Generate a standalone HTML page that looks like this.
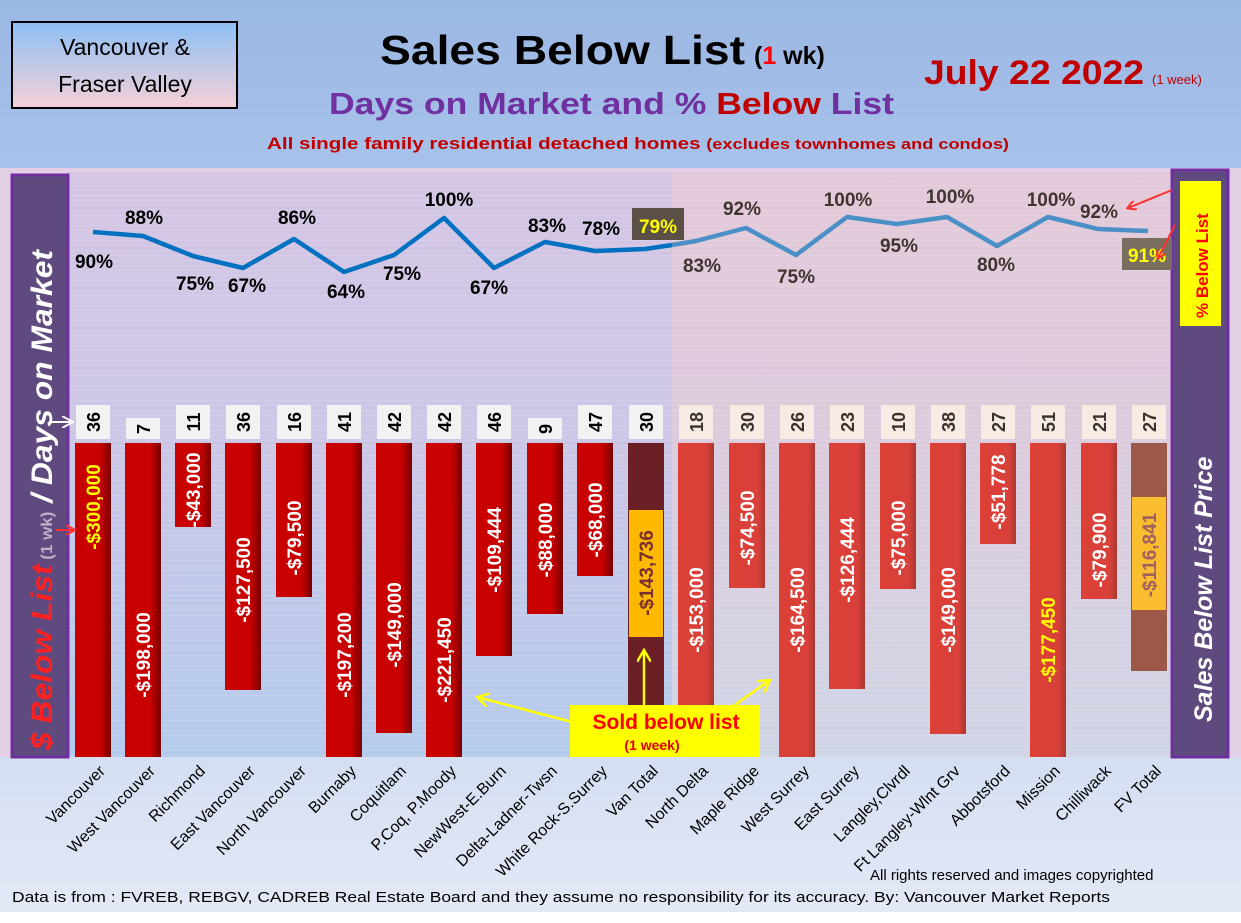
<!DOCTYPE html>
<html><head><meta charset="utf-8"><style>
html,body{margin:0;padding:0;}
body{width:1241px;height:918px;overflow:hidden;font-family:"Liberation Sans",sans-serif;}
</style></head><body>
<svg width="1241" height="918" viewBox="0 0 1241 918" xmlns="http://www.w3.org/2000/svg" font-family="Liberation Sans, sans-serif">
<defs>
<linearGradient id="hdr" x1="0" y1="0" x2="0" y2="1"><stop offset="0" stop-color="#9bb7e3"/><stop offset="1" stop-color="#a7c2ea"/></linearGradient>
<linearGradient id="bot" x1="0" y1="0" x2="0" y2="1"><stop offset="0" stop-color="#d5def2"/><stop offset="1" stop-color="#e4e9f6"/></linearGradient>
<linearGradient id="lp" x1="0" y1="0" x2="0" y2="1"><stop offset="0" stop-color="#d4c6e4"/><stop offset="0.45" stop-color="#cdc6e6"/><stop offset="1" stop-color="#b4cbec"/></linearGradient>
<linearGradient id="rp" x1="0" y1="0" x2="0" y2="1"><stop offset="0" stop-color="#e3c9da"/><stop offset="0.45" stop-color="#dccbdc"/><stop offset="1" stop-color="#d0d5e6"/></linearGradient>
<linearGradient id="tb" x1="0" y1="0" x2="0" y2="1"><stop offset="0" stop-color="#8cc0f4"/><stop offset="1" stop-color="#f6d0d8"/></linearGradient>
<linearGradient id="bv" x1="0" y1="0" x2="1" y2="0"><stop offset="0" stop-color="#c80000"/><stop offset="0.7" stop-color="#c80000"/><stop offset="1" stop-color="#780000"/></linearGradient>
<linearGradient id="bf" x1="0" y1="0" x2="1" y2="0"><stop offset="0" stop-color="#dc4036"/><stop offset="0.8" stop-color="#d8403a"/><stop offset="1" stop-color="#a83830"/></linearGradient>
<pattern id="grid" width="8" height="5" patternUnits="userSpaceOnUse"><rect width="8" height="1" fill="#ffffff" opacity="0.12"/></pattern>
<marker id="ar" markerWidth="10" markerHeight="10" refX="8" refY="5" orient="auto" markerUnits="userSpaceOnUse"><path d="M0,0 L9,5 L0,10" fill="none" stroke="#ff3030" stroke-width="2"/></marker>
<marker id="ay" markerWidth="14" markerHeight="14" refX="12" refY="7" orient="auto" markerUnits="userSpaceOnUse"><path d="M0,0 L12,7 L0,14" fill="none" stroke="#ffff00" stroke-width="2.5"/></marker>
<marker id="aw" markerWidth="12" markerHeight="12" refX="10" refY="6" orient="auto" markerUnits="userSpaceOnUse"><path d="M0,0 L11,6 L0,12" fill="none" stroke="#ffffff" stroke-width="2"/></marker>
</defs>
<rect width="1241" height="918" fill="#e3d0e6"/>
<rect width="1241" height="168" fill="url(#hdr)"/>
<rect x="0" y="757" width="1241" height="161" fill="url(#bot)"/>
<rect x="0" y="912" width="1241" height="6" fill="#ffffff"/>
<rect x="68" y="172" width="604" height="585" fill="url(#lp)"/>
<rect x="672" y="172" width="500" height="585" fill="url(#rp)"/>
<rect x="68" y="172" width="1104" height="585" fill="url(#grid)"/>
<rect x="12" y="175" width="56" height="582" fill="#5e4a7e" stroke="#7030a0" stroke-width="3"/>
<text transform="translate(52,750) rotate(-90)" font-size="30" font-weight="bold" font-style="italic" fill="#ffffff" textLength="500" lengthAdjust="spacingAndGlyphs"><tspan fill="#ff2020">$ Below List</tspan><tspan font-size="16" fill="#c0b0c8" font-style="normal"> (1 wk)</tspan> / Days on Market</text>
<rect x="1172" y="170" width="56" height="587" fill="#5e4a7e" stroke="#7030a0" stroke-width="3"/>
<rect x="1180" y="181" width="41" height="145" fill="#ffff00"/>
<text transform="translate(1208,318) rotate(-90)" font-size="17" font-weight="bold" fill="#ff0000">% Below List</text>
<text transform="translate(1212,722) rotate(-90)" font-size="25" font-weight="bold" font-style="italic" fill="#ffffff">Sales  Below List Price</text>
<rect x="12" y="22" width="225" height="86" fill="url(#tb)" stroke="#000" stroke-width="2"/>
<text x="125" y="55" font-size="23" text-anchor="middle" fill="#000">Vancouver &amp;</text>
<text x="125" y="92" font-size="23" text-anchor="middle" fill="#000">Fraser Valley</text>
<text x="380" y="64" font-size="41" font-weight="bold" fill="#000" textLength="365" lengthAdjust="spacingAndGlyphs">Sales Below List</text>
<text x="754" y="64" font-size="25" font-weight="bold" fill="#000">(<tspan fill="#ff0000">1</tspan> wk)</text>
<text x="329" y="114" font-size="31" font-weight="bold" fill="#7030a0" textLength="565" lengthAdjust="spacingAndGlyphs">Days on Market and % <tspan fill="#c00000">Below</tspan> List</text>
<text x="267" y="149" font-size="17" font-weight="bold" fill="#c00000" textLength="742" lengthAdjust="spacingAndGlyphs">All single family residential detached homes <tspan font-size="15">(excludes townhomes and condos)</tspan></text>
<text x="924" y="84" font-size="34" font-weight="bold" fill="#c00000" textLength="220" lengthAdjust="spacingAndGlyphs">July 22  2022</text>
<text x="1152" y="84" font-size="13" fill="#c00000">(1 week)</text>
<g>
<rect x="75" y="443" width="36" height="314" fill="url(#bv)"/>
<rect x="125" y="443" width="36" height="314" fill="url(#bv)"/>
<rect x="175" y="443" width="36" height="84" fill="url(#bv)"/>
<rect x="225" y="443" width="36" height="247" fill="url(#bv)"/>
<rect x="276" y="443" width="36" height="154" fill="url(#bv)"/>
<rect x="326" y="443" width="36" height="314" fill="url(#bv)"/>
<rect x="376" y="443" width="36" height="290" fill="url(#bv)"/>
<rect x="426" y="443" width="36" height="314" fill="url(#bv)"/>
<rect x="476" y="443" width="36" height="213" fill="url(#bv)"/>
<rect x="527" y="443" width="36" height="171" fill="url(#bv)"/>
<rect x="577" y="443" width="36" height="133" fill="url(#bv)"/>
<rect x="628" y="443" width="36" height="314" fill="#6a2024"/>
<rect x="678" y="443" width="36" height="314" fill="url(#bf)"/>
<rect x="729" y="443" width="36" height="145" fill="url(#bf)"/>
<rect x="779" y="443" width="36" height="314" fill="url(#bf)"/>
<rect x="829" y="443" width="36" height="246" fill="url(#bf)"/>
<rect x="880" y="443" width="36" height="146" fill="url(#bf)"/>
<rect x="930" y="443" width="36" height="291" fill="url(#bf)"/>
<rect x="980" y="443" width="36" height="101" fill="url(#bf)"/>
<rect x="1030" y="443" width="36" height="314" fill="url(#bf)"/>
<rect x="1081" y="443" width="36" height="156" fill="url(#bf)"/>
<rect x="1131" y="443" width="36" height="228" fill="#9c5848"/>
<rect x="629" y="510" width="34" height="127" fill="#ffb800"/>
<rect x="1132" y="497" width="34" height="113" fill="#fbbd30"/>
</g>
<g font-size="19" font-weight="bold" fill="#ffffff" text-anchor="middle">
<text transform="translate(100,507) rotate(-90)" fill="#ffff00">-$300,000</text>
<text transform="translate(150,655) rotate(-90)">-$198,000</text>
<text transform="translate(200,490) rotate(-90)">-$43,000</text>
<text transform="translate(250,580) rotate(-90)">-$127,500</text>
<text transform="translate(301,538) rotate(-90)">-$79,500</text>
<text transform="translate(351,655) rotate(-90)">-$197,200</text>
<text transform="translate(401,625) rotate(-90)">-$149,000</text>
<text transform="translate(451,660) rotate(-90)">-$221,450</text>
<text transform="translate(501,550) rotate(-90)">-$109,444</text>
<text transform="translate(552,540) rotate(-90)">-$88,000</text>
<text transform="translate(602,520) rotate(-90)">-$68,000</text>
<text transform="translate(653,573) rotate(-90)" fill="#7a3030">-$143,736</text>
<text transform="translate(703,610) rotate(-90)">-$153,000</text>
<text transform="translate(754,528) rotate(-90)">-$74,500</text>
<text transform="translate(804,610) rotate(-90)">-$164,500</text>
<text transform="translate(854,560) rotate(-90)">-$126,444</text>
<text transform="translate(905,538) rotate(-90)">-$75,000</text>
<text transform="translate(955,610) rotate(-90)">-$149,000</text>
<text transform="translate(1005,492) rotate(-90)">-$51,778</text>
<text transform="translate(1055,640) rotate(-90)" fill="#ffff00">-$177,450</text>
<text transform="translate(1106,550) rotate(-90)">-$79,900</text>
<text transform="translate(1156,555) rotate(-90)" fill="#a06060">-$116,841</text>
</g>
<g fill="#f2f2f2">
<rect x="76" y="405" width="34" height="34"/><rect x="126" y="418" width="34" height="21"/><rect x="176" y="405" width="34" height="34"/><rect x="226" y="405" width="34" height="34"/><rect x="277" y="405" width="34" height="34"/><rect x="327" y="405" width="34" height="34"/><rect x="377" y="405" width="34" height="34"/><rect x="427" y="405" width="34" height="34"/><rect x="477" y="405" width="34" height="34"/><rect x="528" y="418" width="34" height="21"/><rect x="578" y="405" width="34" height="34"/><rect x="629" y="405" width="34" height="34"/>
</g>
<g fill="#f7ebe4">
<rect x="679" y="405" width="34" height="34"/><rect x="730" y="405" width="34" height="34"/><rect x="780" y="405" width="34" height="34"/><rect x="830" y="405" width="34" height="34"/><rect x="881" y="405" width="34" height="34"/><rect x="931" y="405" width="34" height="34"/><rect x="981" y="405" width="34" height="34"/><rect x="1031" y="405" width="34" height="34"/><rect x="1082" y="405" width="34" height="34"/><rect x="1132" y="405" width="34" height="34"/>
</g>
<g font-size="18" font-weight="bold" fill="#000" text-anchor="middle">
<text transform="translate(100,422) rotate(-90)">36</text>
<text transform="translate(150,429) rotate(-90)">7</text>
<text transform="translate(200,422) rotate(-90)">11</text>
<text transform="translate(250,422) rotate(-90)">36</text>
<text transform="translate(301,422) rotate(-90)">16</text>
<text transform="translate(351,422) rotate(-90)">41</text>
<text transform="translate(401,422) rotate(-90)">42</text>
<text transform="translate(451,422) rotate(-90)">42</text>
<text transform="translate(501,422) rotate(-90)">46</text>
<text transform="translate(552,429) rotate(-90)">9</text>
<text transform="translate(602,422) rotate(-90)">47</text>
<text transform="translate(653,422) rotate(-90)">30</text>
</g>
<g font-size="18" font-weight="bold" fill="#3a302c" text-anchor="middle">
<text transform="translate(703,422) rotate(-90)">18</text>
<text transform="translate(754,422) rotate(-90)">30</text>
<text transform="translate(804,422) rotate(-90)">26</text>
<text transform="translate(854,422) rotate(-90)">23</text>
<text transform="translate(905,422) rotate(-90)">10</text>
<text transform="translate(955,422) rotate(-90)">38</text>
<text transform="translate(1005,422) rotate(-90)">27</text>
<text transform="translate(1055,422) rotate(-90)">51</text>
<text transform="translate(1106,422) rotate(-90)">21</text>
<text transform="translate(1156,422) rotate(-90)">27</text>
</g>
<polyline points="93,232 143,236 193,256 243,268 294,239 344,272 394,255 444,218 494,268 545,242 595,251 645,249 672,245" fill="none" stroke="#0070c0" stroke-width="4.5" stroke-linejoin="round"/>
<polyline points="672,245 696,241 746,228 796,255 847,217 897,224 947,217 997,246 1048,217 1098,229 1148,231" fill="none" stroke="#4a8fc6" stroke-width="4.5" stroke-linejoin="round"/>
<g font-size="19" font-weight="bold" fill="#000" text-anchor="middle">
<text x="94" y="268">90%</text><text x="144" y="224">88%</text><text x="195" y="290">75%</text><text x="247" y="292">67%</text><text x="297" y="224">86%</text><text x="346" y="298">64%</text><text x="402" y="280">75%</text><text x="449" y="206">100%</text><text x="489" y="294">67%</text><text x="547" y="232">83%</text><text x="601" y="235">78%</text>
</g>
<rect x="632" y="208" width="52" height="32" fill="#5a5048"/>
<text x="658" y="233" font-size="19" font-weight="bold" fill="#ffff00" text-anchor="middle">79%</text>
<rect x="1122" y="238" width="50" height="32" fill="#7a6e60"/>
<text x="1147" y="262" font-size="19" font-weight="bold" fill="#ffff00" text-anchor="middle">91%</text>
<g font-size="19" font-weight="bold" fill="#403430" text-anchor="middle">
<text x="702" y="272">83%</text><text x="742" y="215">92%</text><text x="796" y="283">75%</text><text x="848" y="206">100%</text><text x="899" y="252">95%</text><text x="950" y="203">100%</text><text x="996" y="271">80%</text><text x="1051" y="206">100%</text><text x="1099" y="218">92%</text>
</g>
<line x1="1172" y1="190" x2="1128" y2="208" stroke="#ff3030" stroke-width="2" marker-end="url(#ar)"/>
<line x1="1175" y1="225" x2="1158" y2="258" stroke="#ff3030" stroke-width="2" marker-end="url(#ar)"/>
<line x1="50" y1="422" x2="72" y2="422" stroke="#ffffff" stroke-width="2" marker-end="url(#aw)"/>
<line x1="56" y1="530" x2="74" y2="530" stroke="#ff3030" stroke-width="2" marker-end="url(#ar)"/>
<line x1="572" y1="722" x2="477" y2="697" stroke="#ffff00" stroke-width="2.5" marker-end="url(#ay)"/>
<line x1="732" y1="707" x2="770" y2="680" stroke="#ffff00" stroke-width="2.5" marker-end="url(#ay)"/>
<line x1="644" y1="707" x2="644" y2="650" stroke="#ffff00" stroke-width="2.5" marker-end="url(#ay)"/>
<rect x="570" y="705" width="190" height="52" fill="#ffff00"/>
<text x="666" y="729" font-size="21" font-weight="bold" fill="#ff0000" text-anchor="middle">Sold below list</text>
<text x="652" y="750" font-size="14" font-weight="bold" fill="#e00000" text-anchor="middle">(1 week)</text>
<g font-size="16" fill="#000" text-anchor="end">
<text transform="translate(106,772) rotate(-45)">Vancouver</text>
<text transform="translate(156,772) rotate(-45)">West Vancouver</text>
<text transform="translate(206,772) rotate(-45)">Richmond</text>
<text transform="translate(256,772) rotate(-45)">East Vancouver</text>
<text transform="translate(307,772) rotate(-45)">North Vancouver</text>
<text transform="translate(357,772) rotate(-45)">Burnaby</text>
<text transform="translate(407,772) rotate(-45)">Coquitlam</text>
<text transform="translate(457,772) rotate(-45)">P.Coq, P.Moody</text>
<text transform="translate(507,772) rotate(-45)">NewWest-E.Burn</text>
<text transform="translate(558,772) rotate(-45)">Delta-Ladner-Twsn</text>
<text transform="translate(608,772) rotate(-45)">White Rock-S.Surrey</text>
<text transform="translate(659,772) rotate(-45)">Van Total</text>
<text transform="translate(709,772) rotate(-45)">North Delta</text>
<text transform="translate(760,772) rotate(-45)">Maple Ridge</text>
<text transform="translate(810,772) rotate(-45)">West Surrey</text>
<text transform="translate(860,772) rotate(-45)">East Surrey</text>
<text transform="translate(911,772) rotate(-45)">Langley,Clvrdl</text>
<text transform="translate(961,772) rotate(-45)">Ft Langley-Wlnt Grv</text>
<text transform="translate(1011,772) rotate(-45)">Abbotsford</text>
<text transform="translate(1061,772) rotate(-45)">Mission</text>
<text transform="translate(1112,772) rotate(-45)">Chilliwack</text>
<text transform="translate(1162,772) rotate(-45)">FV Total</text>
</g>
<text x="870" y="880" font-size="15" fill="#000">All rights reserved and  images copyrighted</text>
<text x="12" y="902" font-size="15" fill="#000" textLength="1098" lengthAdjust="spacingAndGlyphs">Data is from : FVREB, REBGV, CADREB Real Estate Board and they assume no responsibility for its accuracy. By: Vancouver Market Reports</text>
</svg>
</body></html>
